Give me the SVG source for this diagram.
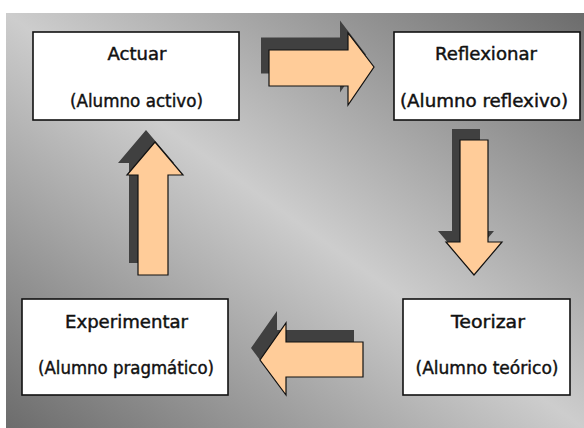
<svg xmlns="http://www.w3.org/2000/svg" width="584" height="428" viewBox="0 0 584 428">
<defs>
<linearGradient id="bg" x1="1" y1="0" x2="0" y2="1">
<stop offset="0" stop-color="#6c6c6c"/>
<stop offset="0.5" stop-color="#cdcdcd"/>
<stop offset="1" stop-color="#6c6c6c"/>
</linearGradient>
</defs>
<style>
.box{fill:#ffffff;stroke:#111111;stroke-width:1.6}
.t{font-family:"DejaVu Sans","Liberation Sans",sans-serif;font-size:18px;fill:#111111;stroke:#111111;stroke-width:0.45;text-anchor:middle}
.arr{fill:#ffcc99;stroke:#111111;stroke-width:1.2;stroke-linejoin:miter}
.sh{fill:#404040;stroke:none}
</style>
<rect x="0" y="0" width="584" height="428" fill="#ffffff"/>
<rect x="6" y="13" width="578" height="415" fill="url(#bg)"/>
<g id="connectors">
<g id="arrow-actuar-reflexionar">
<polygon class="sh" transform="translate(-8,-12.5)" points="269,50 348,50 348,33 374,67 348,105 348,86 269,86"/>
<polygon class="arr" points="269,50 348,50 348,33 374,67 348,105 348,86 269,86"/>
</g>
<g id="arrow-reflexionar-teorizar">
<polygon class="sh" transform="translate(-8,-11)" points="460,140 488,140 488,242 502,242 474,275 446,242 460,242"/>
<polygon class="arr" points="460,140 488,140 488,242 502,242 474,275 446,242 460,242"/>
</g>
<g id="arrow-teorizar-experimentar">
<polygon class="sh" transform="translate(-9,-12)" points="363,342 286,342 286,323 260,360 286,395 286,377 363,377"/>
<polygon class="arr" points="363,342 286,342 286,323 260,360 286,395 286,377 363,377"/>
</g>
<g id="arrow-experimentar-actuar">
<polygon class="sh" transform="translate(-9,-12)" points="138,275 138,175 127,175 155,142 183,175 168,175 168,275"/>
<polygon class="arr" points="138,275 138,175 127,175 155,142 183,175 168,175 168,275"/>
</g>
</g>
<g id="actuar">
<rect class="box" x="33" y="32" width="206" height="88"/>
<text class="t" x="137" y="60" textLength="59" lengthAdjust="spacingAndGlyphs">Actuar</text>
<text class="t" x="136.5" y="107" textLength="133" lengthAdjust="spacingAndGlyphs">(Alumno activo)</text>
</g>
<g id="reflexionar">
<rect class="box" x="394" y="32" width="186" height="88"/>
<text class="t" x="486" y="60" textLength="102" lengthAdjust="spacingAndGlyphs">Reflexionar</text>
<text class="t" x="484" y="107" textLength="168" lengthAdjust="spacingAndGlyphs">(Alumno reflexivo)</text>
</g>
<g id="experimentar">
<rect class="box" x="22" y="299" width="206" height="96"/>
<text class="t" x="126.5" y="328" textLength="123" lengthAdjust="spacingAndGlyphs">Experimentar</text>
<text class="t" x="126" y="374" textLength="176" lengthAdjust="spacingAndGlyphs">(Alumno pragmático)</text>
</g>
<g id="teorizar">
<rect class="box" x="403" y="299" width="167" height="96"/>
<text class="t" x="488" y="328" textLength="74" lengthAdjust="spacingAndGlyphs">Teorizar</text>
<text class="t" x="487" y="374" textLength="143" lengthAdjust="spacingAndGlyphs">(Alumno teórico)</text>
</g>
</svg>
